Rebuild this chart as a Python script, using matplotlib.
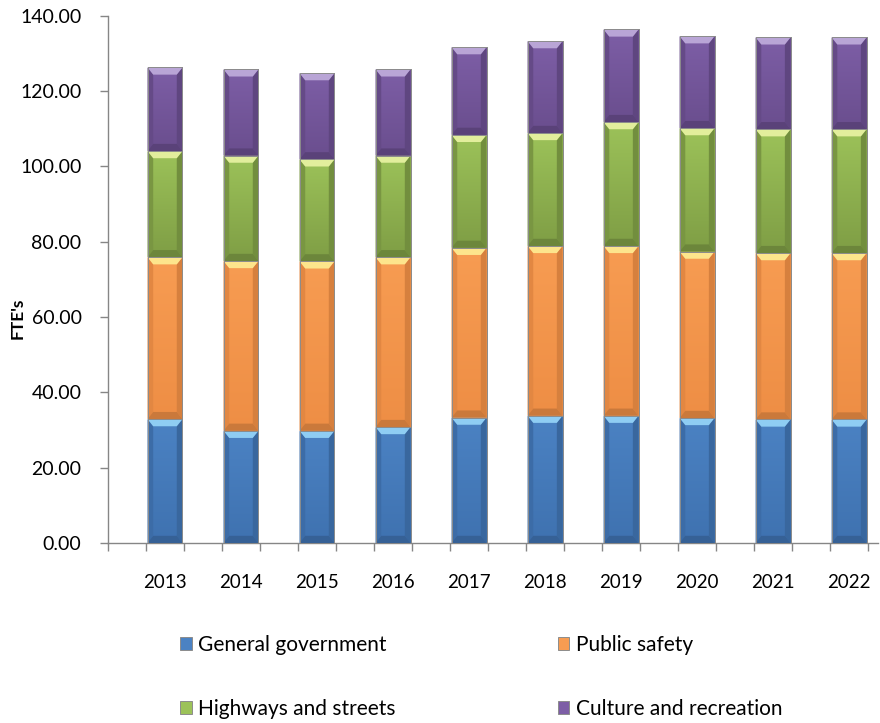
import matplotlib
matplotlib.use("Agg")
import matplotlib.pyplot as plt
import numpy as np
from matplotlib.patches import Polygon
from matplotlib.colors import to_rgb, LinearSegmentedColormap

plt.rcParams["font.family"] = ["Lato", "DejaVu Sans"]

years = ["2013", "2014", "2015", "2016", "2017", "2018", "2019", "2020", "2021", "2022"]
general_government = [32.9, 29.8, 29.8, 30.8, 33.3, 33.8, 33.8, 33.2, 32.8, 32.8]
public_safety = [43.0, 45.1, 45.0, 45.1, 45.1, 45.1, 45.1, 44.2, 44.2, 44.2]
highways_streets = [28.2, 28.0, 27.1, 27.0, 30.0, 30.0, 32.9, 32.8, 32.9, 32.9]
culture_recreation = [22.2, 22.9, 22.9, 22.9, 23.3, 24.4, 24.6, 24.4, 24.4, 24.4]

# name, values, top colour, bottom colour, bevel highlight
series = [
    ("General government", general_government, "#4b82c3", "#3f72b0", "#8fcdf3"),
    ("Public safety", public_safety, "#f79c52", "#ee8e45", "#fde58c"),
    ("Highways and streets", highways_streets, "#9cc259", "#7f9e45", "#e2ee9c"),
    ("Culture and recreation", culture_recreation, "#7d5ea6", "#6a4e8e", "#b9a5d6"),
]


def shade(color, f):
    c = np.array(to_rgb(color))
    if f >= 0:
        return tuple(c + (1 - c) * f)
    return tuple(c * (1 + f))


def fill_gradient(ax, rect, c_top, c_bot):
    x0, y0 = rect.get_x(), rect.get_y()
    x1, y1 = x0 + rect.get_width(), y0 + rect.get_height()
    cmap = LinearSegmentedColormap.from_list("g", [c_bot, c_top])
    grad = np.linspace(0, 1, 64).reshape(-1, 1)
    im = ax.imshow(grad, cmap=cmap, origin="lower", aspect="auto",
                   extent=(x0, x1, y0, y1), zorder=2.5, interpolation="bilinear")
    im.set_clip_path(rect)


def bevel(ax, rect, base, light):
    # light top edge, darker bottom and sides, in data units
    x0, y0 = rect.get_x(), rect.get_y()
    w, h = rect.get_width(), rect.get_height()
    x1, y1 = x0 + w, y0 + h
    dx, dy = 0.075, 1.9
    top = [(x0, y1), (x1, y1), (x1 - dx, y1 - dy), (x0 + dx, y1 - dy)]
    bot = [(x0, y0), (x1, y0), (x1 - dx, y0 + dy), (x0 + dx, y0 + dy)]
    left = [(x0, y0), (x0, y1), (x0 + dx, y1 - dy), (x0 + dx, y0 + dy)]
    right = [(x1, y0), (x1, y1), (x1 - dx, y1 - dy), (x1 - dx, y0 + dy)]
    ax.add_patch(Polygon(left, closed=True, fc=shade(base, -0.05), ec="none", zorder=3))
    ax.add_patch(Polygon(right, closed=True, fc=shade(base, -0.10), ec="none", zorder=3))
    ax.add_patch(Polygon(bot, closed=True, fc=shade(base, -0.15), ec="none", zorder=3))
    ax.add_patch(Polygon(top, closed=True, fc=light, ec="none", zorder=3))


fig = plt.figure(figsize=(8.8, 7.23), dpi=100)
ax = fig.add_axes([0.1227, 0.249, 0.875, 0.729])

x = np.arange(len(years))
bottom = np.zeros(len(years))
handles = {}
for label, values, c_top, c_bot, light in series:
    bars = ax.bar(x, values, width=0.46, bottom=bottom, color=c_top,
                  edgecolor="#8c8c8c", linewidth=0.7, label=label, zorder=2)
    for rect in bars:
        fill_gradient(ax, rect, c_top, c_bot)
        bevel(ax, rect, c_bot, light)
        ax.add_patch(plt.Rectangle((rect.get_x(), rect.get_y()), rect.get_width(),
                                   rect.get_height(), fc="none", ec="#8c8c8c",
                                   lw=0.7, zorder=3.5))
    handles[label] = bars
    bottom += np.array(values)

# each year sits in the middle of two axis slots
ax.set_xlim(-0.75, 9.38)
ax.set_ylim(0, 140)
ax.set_yticks(np.arange(0, 141, 20))
ax.set_yticklabels([f"{v:.2f}" for v in np.arange(0, 141, 20)])
ax.set_xticks(x)
ax.set_xticklabels(years)
ax.set_xticks(np.arange(-0.75, 9.38, 0.5), minor=True)
ax.tick_params(axis="x", which="major", length=0, pad=22, labelsize=13.5)
ax.tick_params(axis="x", which="minor", length=6, color="#868686", width=1)
ax.tick_params(axis="y", length=6, color="#868686", width=1, labelsize=14, pad=13)

for side in ["top", "right"]:
    ax.spines[side].set_visible(False)
for side in ["left", "bottom"]:
    ax.spines[side].set_color("#868686")
    ax.spines[side].set_linewidth(1)

ax.set_ylabel("FTE's", fontsize=12.5, fontweight="bold")
ax.yaxis.set_label_coords(-0.107, 0.427)

order = ["General government", "Highways and streets", "Public safety", "Culture and recreation"]
fig.legend(handles=[handles[k] for k in order], labels=order, loc="upper left",
           bbox_to_anchor=(0.193, 0.136), ncol=2, frameon=False, fontsize=15,
           handlelength=0.55, handleheight=0.55, handletextpad=0.3, borderpad=0,
           columnspacing=7.8, labelspacing=2.1)

fig.savefig("out.png", dpi=100)
